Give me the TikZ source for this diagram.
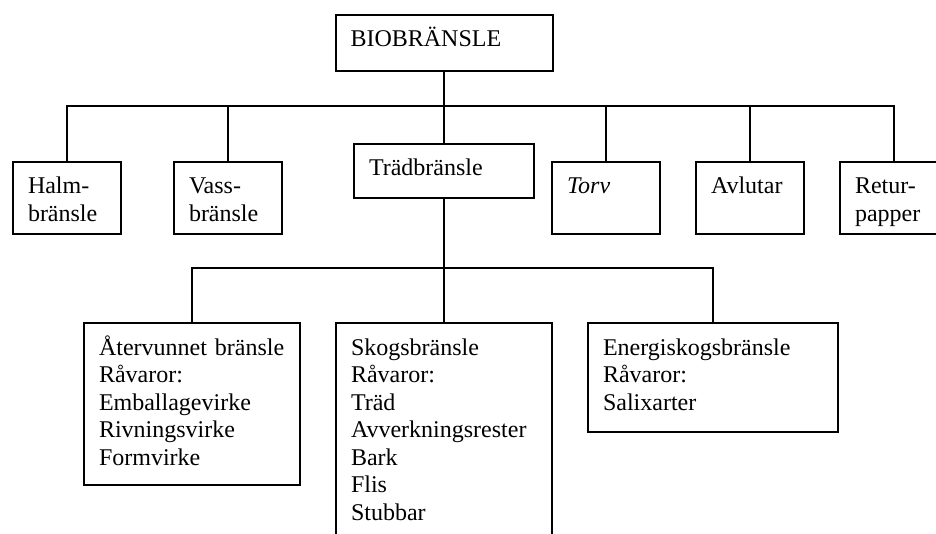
\documentclass[tikz,border=0pt]{standalone}
\usepackage{fontspec}
\setmainfont{Liberation Serif}

\begin{document}
\begin{tikzpicture}[
    x=0.5pt,
    y=-0.5pt,
    line width=1pt,
    fuelbox/.style={
        draw,
        anchor=north west,
        align=left,
        inner xsep=7.5pt,
        inner ysep=6pt,
        text height=10pt,
        font=\fontsize{12pt}{13.75pt}\selectfont
    },
    topbox/.style={
        fuelbox,
        text width=93.5pt,
        text depth=6pt
    },
    kindbox/.style={
        fuelbox,
        text width=39pt,
        text depth=14pt
    },
    rawbox/.style={
        fuelbox,
        text width=93pt
    }
]

\useasboundingbox (0,0) rectangle (936,534);
\clip (0,0) rectangle (936,534);

% Top level
\node[topbox] (bio) at (334.5,14) {BIOBRÄNSLE};

% Kinds of fuel
\node[kindbox] (halm) at (12,161) {Halm-\\bränsle};
\node[kindbox] (vass) at (173,161) {Vass-\\bränsle};
\node[fuelbox, text width=75pt, text depth=5pt] (trad) at (353,143) {Trädbränsle};
\node[kindbox] (torv) at (551,161) {\textit{Torv}};
\node[kindbox] (avlutar) at (695,161) {Avlutar};
\node[kindbox] (retur) at (839,161) {Retur-\\papper};

% Wood fuels
\node[rawbox, text depth=59pt] (ater) at (83,322) {Återvunnet bränsle\\Råvaror:\\Emballagevirke\\Rivningsvirke\\Formvirke};
\node[rawbox, text depth=120pt] (skog) at (335,322) {Skogsbränsle\\Råvaror:\\Träd\\Avverkningsrester\\Bark\\Flis\\Stubbar};
\node[rawbox, text width=110pt, text depth=32.5pt] (energi) at (587,322) {Energiskogsbränsle\\Råvaror:\\Salixarter};

% Connectors
\coordinate (topbus) at (bio.south |- 0,106);
\draw (bio.south) -- (topbus);
\draw (topbus) -| (halm.north);
\draw (topbus) -| (vass.north);
\draw (topbus) -- (trad.north);
\draw (topbus) -| (torv.north);
\draw (topbus) -| (avlutar.north);
\draw (topbus) -| (retur.north);

\coordinate (lowbus) at (trad.south |- 0,268);
\draw (trad.south) -- (lowbus);
\draw (lowbus) -| (ater.north);
\draw (lowbus) -- (skog.north);
\draw (lowbus) -| (energi.north);

\end{tikzpicture}
\end{document}
